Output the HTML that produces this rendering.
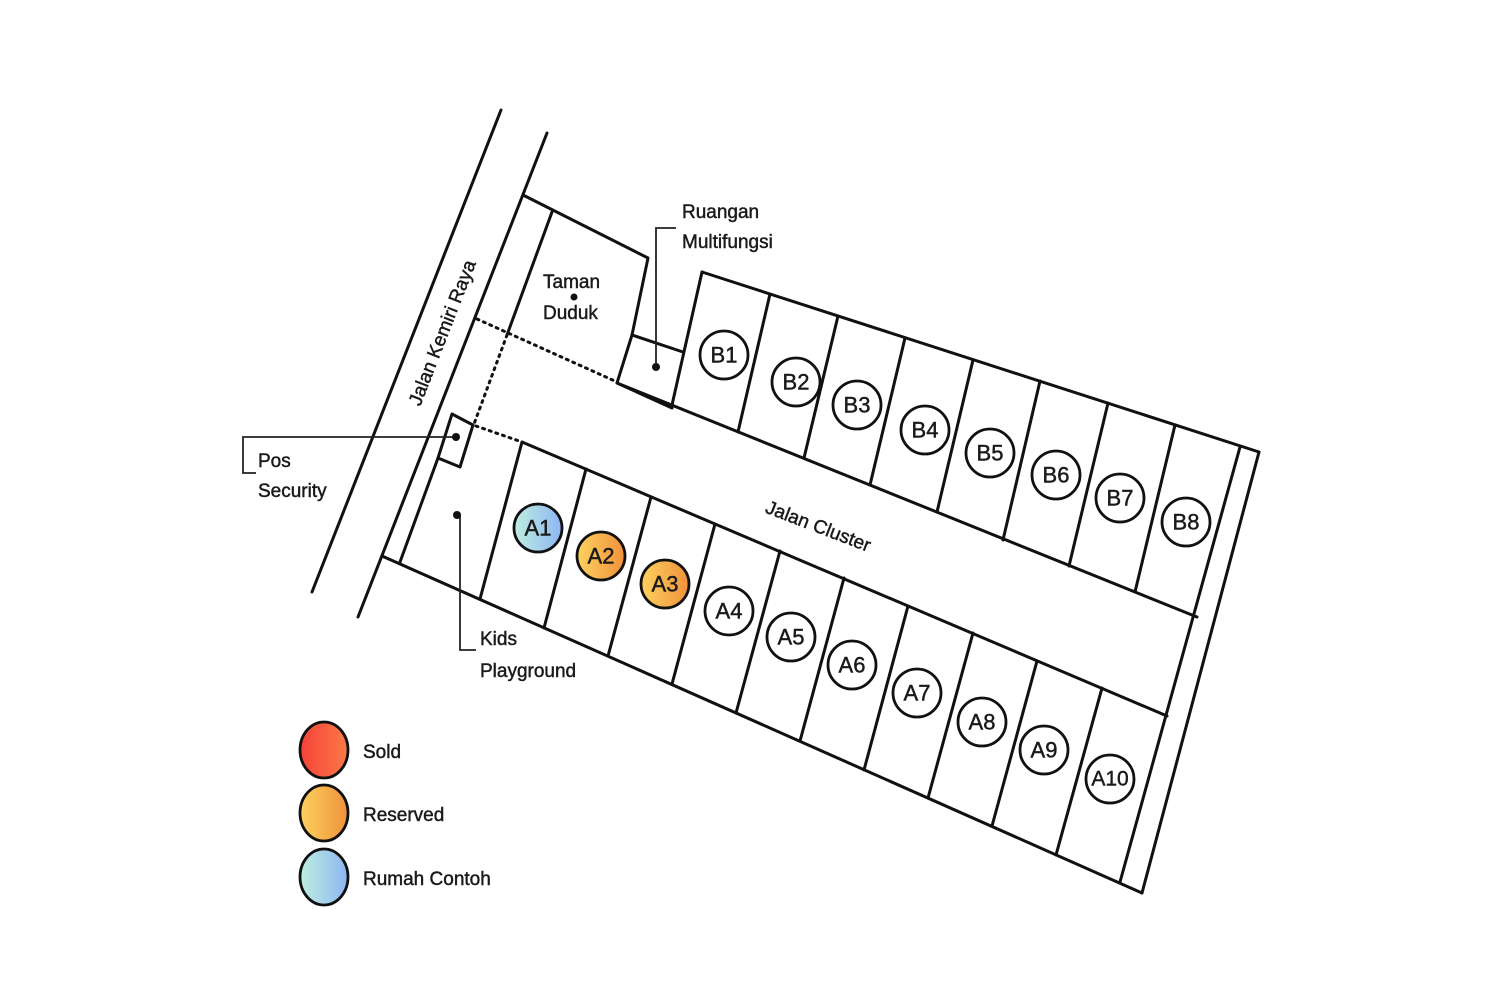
<!DOCTYPE html>
<html><head><meta charset="utf-8"><style>
html,body{margin:0;padding:0;background:#fff}
svg{display:block}
text{font-family:"Liberation Sans",sans-serif;fill:#1a1a1a;stroke:#1a1a1a;stroke-width:0.45}
</style></head><body>
<svg width="1500" height="1000" viewBox="0 0 1500 1000" xmlns="http://www.w3.org/2000/svg">
<defs>
<linearGradient id="gs" x1="0" x2="1"><stop offset="0" stop-color="#f5423a"/><stop offset="1" stop-color="#fb7a45"/></linearGradient>
<linearGradient id="gr" x1="0" x2="1"><stop offset="0" stop-color="#fdd25e"/><stop offset="1" stop-color="#f0913c"/></linearGradient>
<linearGradient id="gc" x1="0" x2="1"><stop offset="0" stop-color="#bfeee0"/><stop offset="1" stop-color="#8cb6f2"/></linearGradient>
</defs>
<g stroke="#111" stroke-width="3" fill="none" stroke-linecap="round" stroke-linejoin="round">
<line x1="501" y1="110" x2="312" y2="592"/>
<line x1="547" y1="133" x2="358" y2="617"/>
<polyline points="523,195 648,258 632,335 683,352"/>
<polyline points="632,335 617,383 672,408"/>
<line x1="552" y1="212" x2="507" y2="335"/>
<line x1="702" y1="272" x2="1259" y2="452"/>
<line x1="617" y1="383" x2="1197" y2="617"/>
<line x1="702" y1="272" x2="672" y2="405"/>
<line x1="770" y1="294" x2="738" y2="432"/>
<line x1="838" y1="316" x2="804" y2="458"/>
<line x1="905" y1="338" x2="870" y2="485"/>
<line x1="973" y1="360" x2="937" y2="512"/>
<line x1="1040" y1="381" x2="1003" y2="540"/>
<line x1="1108" y1="403" x2="1069" y2="566"/>
<line x1="1175" y1="425" x2="1135" y2="592"/>
<line x1="1240" y1="447" x2="1120" y2="882"/>
<line x1="1259" y1="452" x2="1142" y2="893"/>
<line x1="522" y1="442" x2="1167" y2="716"/>
<line x1="382" y1="556" x2="1142" y2="893"/>
<line x1="400" y1="562" x2="438" y2="458"/>
<line x1="522" y1="442" x2="480" y2="599"/>
<line x1="586" y1="469" x2="544" y2="628"/>
<line x1="651" y1="497" x2="608" y2="656"/>
<line x1="715" y1="524" x2="672" y2="684"/>
<line x1="780" y1="551" x2="736" y2="713"/>
<line x1="844" y1="578" x2="800" y2="741"/>
<line x1="908" y1="606" x2="864" y2="770"/>
<line x1="973" y1="633" x2="928" y2="798"/>
<line x1="1037" y1="661" x2="992" y2="826"/>
<line x1="1102" y1="688" x2="1056" y2="855"/>
<polygon points="452,414 473,425 460,467 438,458"/>
</g>
<g stroke="#111" stroke-width="3" fill="none" stroke-dasharray="2 5" stroke-linecap="round">
<line x1="477" y1="319" x2="617" y2="382"/>
<line x1="507" y1="335" x2="474" y2="424"/>
<line x1="476" y1="426" x2="522" y2="442"/>
</g>
<g stroke="#222" stroke-width="1.8" fill="none">
<polyline points="656,367 656,228 676,228"/>
<polyline points="456,437 243,437 243,473 256,473"/>
<polyline points="457,515 460,515 460,650 476,650"/>
</g>
<g fill="#111">
<circle cx="656" cy="367" r="4"/><circle cx="456" cy="437" r="4"/><circle cx="457" cy="515" r="4"/><circle cx="574" cy="297" r="3.5"/>
</g>
<g stroke="#111" stroke-width="2.8" fill="#fff">
<circle cx="724" cy="355" r="24"/><circle cx="796" cy="382" r="24"/><circle cx="857" cy="405" r="24"/><circle cx="925" cy="430" r="24"/><circle cx="990" cy="453" r="24"/><circle cx="1056" cy="475" r="24"/><circle cx="1120" cy="498" r="24"/><circle cx="1186" cy="522" r="24"/>
<circle cx="538" cy="528" r="24" fill="url(#gc)"/><circle cx="601" cy="556" r="24" fill="url(#gr)"/><circle cx="665" cy="584" r="24" fill="url(#gr)"/><circle cx="729" cy="611" r="24"/><circle cx="791" cy="637" r="24"/><circle cx="852" cy="665" r="24"/><circle cx="917" cy="693" r="24"/><circle cx="982" cy="722" r="24"/><circle cx="1044" cy="750" r="24"/><circle cx="1110" cy="779" r="24"/>
<ellipse cx="324" cy="750" rx="24" ry="28" fill="url(#gs)"/><ellipse cx="324" cy="813" rx="24" ry="28" fill="url(#gr)"/><ellipse cx="324" cy="877" rx="24" ry="28" fill="url(#gc)"/>
</g>
<g font-size="22" text-anchor="middle" dominant-baseline="central">
<text x="724" y="355">B1</text><text x="796" y="382">B2</text><text x="857" y="405">B3</text><text x="925" y="430">B4</text><text x="990" y="453">B5</text><text x="1056" y="475">B6</text><text x="1120" y="498">B7</text><text x="1186" y="522">B8</text>
<text x="538" y="528">A1</text><text x="601" y="556">A2</text><text x="665" y="584">A3</text><text x="729" y="611">A4</text><text x="791" y="637">A5</text><text x="852" y="665">A6</text><text x="917" y="693">A7</text><text x="982" y="722">A8</text><text x="1044" y="750">A9</text><text x="1110" y="779" font-size="21">A10</text>
</g>
<g font-size="19">
<text x="682" y="218">Ruangan</text><text x="682" y="248">Multifungsi</text>
<text x="543" y="288">Taman</text><text x="543" y="319">Duduk</text>
<text x="258" y="467">Pos</text><text x="258" y="497">Security</text>
<text x="480" y="645">Kids</text><text x="480" y="677">Playground</text>
<text x="363" y="758">Sold</text><text x="363" y="821">Reserved</text><text x="363" y="885">Rumah Contoh</text>
<text x="443" y="333" text-anchor="middle" dominant-baseline="central" transform="rotate(-68.7 443 333)">Jalan Kemiri Raya</text>
<text x="818" y="527" text-anchor="middle" dominant-baseline="central" transform="rotate(21 818 527)">Jalan Cluster</text>
</g>
</svg>
</body></html>
